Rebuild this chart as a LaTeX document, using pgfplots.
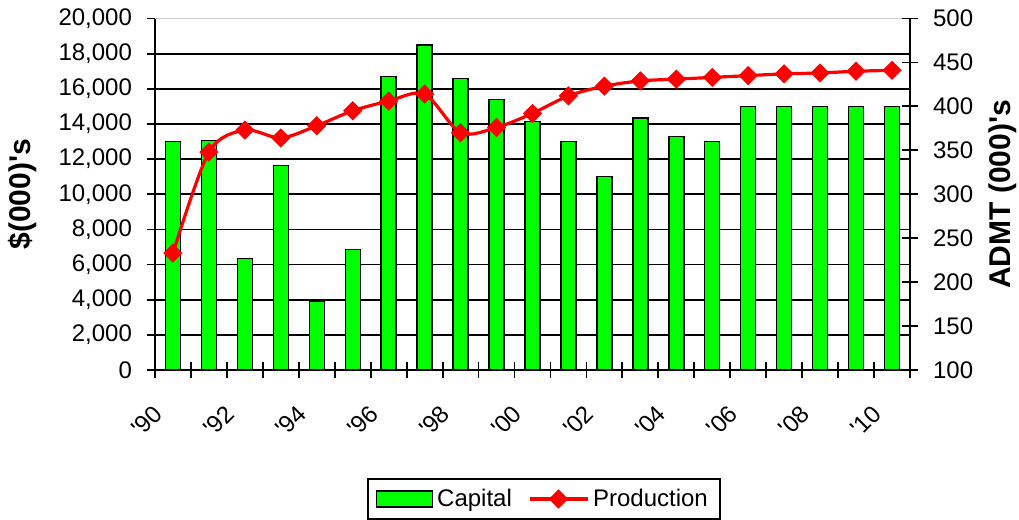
\documentclass[border=0pt]{standalone}
\usepackage{pgfplots}
\pgfplotsset{compat=1.18}
\usepackage{fontspec}
\setmainfont{Liberation Sans}
\definecolor{bargreen}{HTML}{00FF00}
\definecolor{linered}{HTML}{FF0000}
\pgfplotsset{
  mll/.style={legend image code/.code={\draw[mark repeat=2, mark phase=2, ##1] plot coordinates {(0pt,0pt) (14.5pt,0pt) (29pt,0pt)};}},
  mbl/.style={legend image code/.code={\draw[fill=bargreen, draw=black, line width=0.7pt] (0pt,-4pt) rectangle (28pt,4pt);}},
}
\begin{document}
\begin{tikzpicture}
\pgfplotsset{
  common/.style={
    scale only axis, width=377.5pt, height=175.75pt,
    xmin=-0.5, xmax=20.5,
    tick align=center, major tick length=8pt,
    tick style={black, line width=0.9pt},
    axis line style={black, line width=0.9pt},
    /pgf/number format/assume math mode=true,
    /pgf/number format/1000 sep={,},
    tick label style={font=\fontsize{12}{14}\selectfont},
    label style={font=\bfseries\fontsize{15}{18}\selectfont},
  }
}
\begin{axis}[common,
  ymin=0, ymax=20000,
  axis x line*=bottom, axis y line*=left,
  xtick={-0.5,0.5,...,20.5}, xticklabels={},
  extra x ticks={0,2,...,20},
  extra x tick labels={\textquotesingle 90,\textquotesingle 92,\textquotesingle 94,\textquotesingle 96,\textquotesingle 98,\textquotesingle 00,\textquotesingle 02,\textquotesingle 04,\textquotesingle 06,\textquotesingle 08,\textquotesingle 10},
  extra x tick style={major tick length=0pt,
    xticklabel style={xshift=-5pt, yshift=-17.5pt, rotate=45, anchor=east}},
  ytick={0,2000,...,18000},
  extra y ticks={20000},
  extra y tick style={grid=none},
  ymajorgrids=true,
  major grid style={black, line width=0.9pt},
  yticklabel style={xshift=-4pt},
  scaled y ticks=false,
  ylabel={\$(000)\textquotesingle s},
  ylabel style={at={(axis description cs:-0.175,0.5)}, anchor=center},
]
\addplot[ybar, bar width=7.5pt, fill=bargreen, draw=black, line width=0.7pt]
  coordinates {
  (0,13000) (1,13050) (2,6350) (3,11650) (4,3900) (5,6850) (6,16700)
  (7,18500) (8,16600) (9,15400) (10,14150) (11,13000) (12,11000)
  (13,14350) (14,13300) (15,13000) (16,15000) (17,15000) (18,15000)
  (19,15000) (20,15000)};
\draw[black!20, line width=0.7pt] (rel axis cs:0,1) -- (rel axis cs:1,1);
\end{axis}
\begin{axis}[common,
  ymin=100, ymax=500,
  axis x line=none, axis y line*=right,
  ytick={100,150,...,500},
  yticklabel style={xshift=4pt},
  ylabel={ADMT (000)\textquotesingle s},
  ylabel style={at={(axis description cs:1.123,0.5)}, anchor=center},
  legend columns=2,
  legend style={at={(0.515,-0.307)}, anchor=north, draw=black, line width=0.9pt,
    font=\fontsize{12}{14}\selectfont, inner xsep=4pt, inner ysep=3pt,
    /tikz/every even column/.append style={column sep=6pt}},
]
\addlegendimage{mbl}
\addlegendentry{Capital}
\addplot[linered, line width=1.6pt, smooth, mark=square*, mark size=3.2pt,
  mark options={rotate=45, fill=linered, draw=linered, line width=0.4pt}, mll]
  coordinates {
  (0,233) (1,348) (2,373) (3,364) (4,378) (5,395) (6,406) (7,414)
  (8,370) (9,376) (10,392) (11,412) (12,423) (13,429) (14,431)
  (15,433) (16,435) (17,437) (18,438) (19,440) (20,441)};
\addlegendentry{Production}
\end{axis}
\pgfresetboundingbox
\path[use as bounding box] (-77.5pt,-75pt) rectangle (432pt,185pt);
\end{tikzpicture}
\end{document}
